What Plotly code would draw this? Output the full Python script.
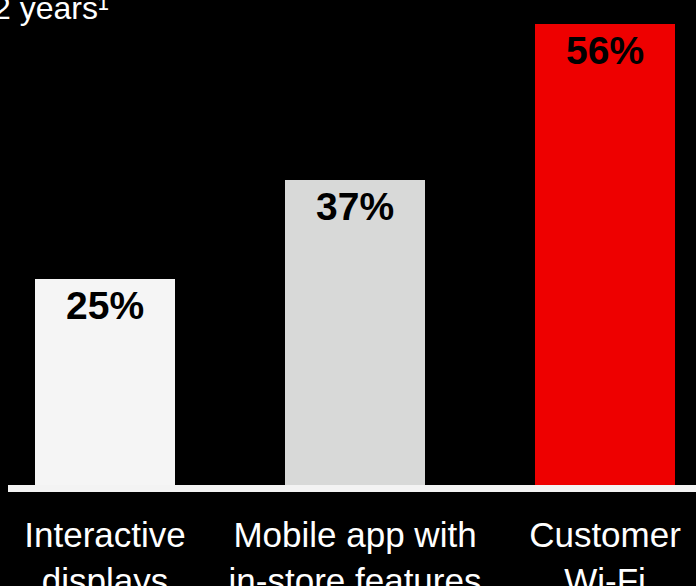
import plotly.graph_objects as go

categories = ["Interactive<br>displays", "Mobile app with<br>in-store features", "Customer<br>Wi-Fi"]
values = [25, 37, 56]
value_labels = ["25%", "37%", "56%"]
bar_colors = ["#f5f5f5", "#d8d9d8", "#ee0000"]
title_text = "2 years¹"

FONT = "Liberation Sans, Arial, Helvetica, sans-serif"

x_idx = list(range(len(categories)))

fig = go.Figure()
fig.add_trace(go.Bar(
    x=x_idx, y=values, width=0.56,
    marker=dict(color=bar_colors, line=dict(width=0)),
    hoverinfo="skip",
))

for i, (v, lab) in enumerate(zip(values, value_labels)):
    fig.add_annotation(
        x=i, y=v, xref="x", yref="y", text=f"<b>{lab}</b>",
        showarrow=False, yanchor="top", xanchor="center", yshift=-3,
        font=dict(family=FONT, size=39, color="#000000"),
    )

fig.add_annotation(
    x=-17 / 688, y=1.025, xref="paper", yref="paper", text=title_text,
    showarrow=False, xanchor="left", yanchor="top",
    font=dict(family=FONT, size=32, color="#ffffff"),
)

fig.update_layout(
    width=696, height=586,
    margin=dict(l=8, r=0, t=0, b=101, pad=0, autoexpand=False),
    paper_bgcolor="#000000", plot_bgcolor="#000000",
    showlegend=False, bargap=0,
    xaxis=dict(
        range=[-0.388, 2.364], tickmode="array", tickvals=x_idx, ticktext=categories,
        showgrid=False, zeroline=False, showline=True, linecolor="#f3f3f3", linewidth=7,
        ticks="outside", ticklen=13, tickcolor="rgba(0,0,0,0)", automargin=False,
        tickfont=dict(family=FONT, size=35, color="#ffffff"),
        fixedrange=True,
    ),
    yaxis=dict(range=[0, 58.9], visible=False, showgrid=False, zeroline=False, fixedrange=True),
)

fig.write_html("out.html")
